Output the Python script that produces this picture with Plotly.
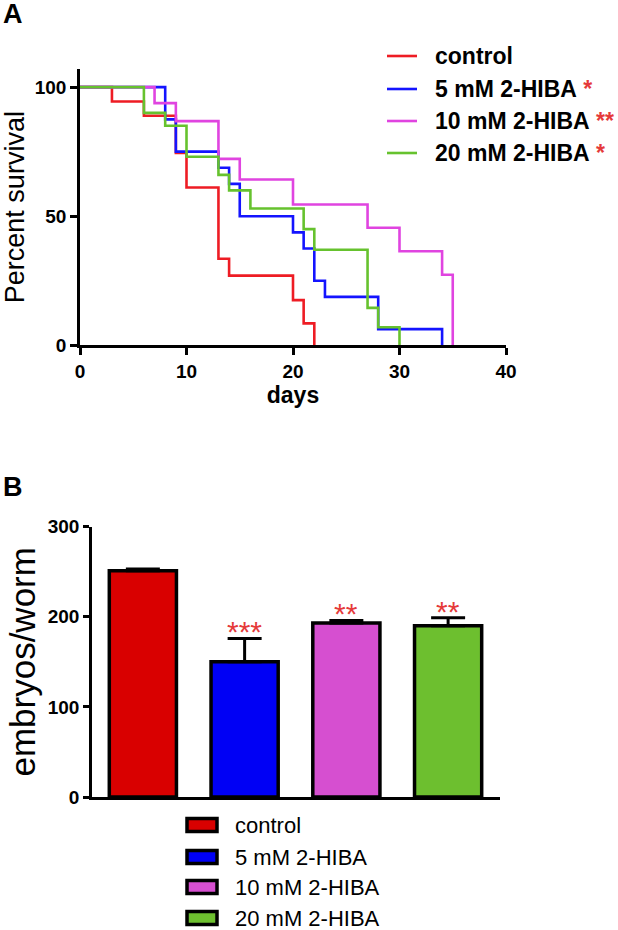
import plotly.graph_objects as go

# ---------------- data ----------------
groups = ["control", "5 mM 2-HIBA", "10 mM 2-HIBA", "20 mM 2-HIBA"]
survival_sig = ["", "*", "**", "*"]

control_days = [0, 3, 6, 9, 10, 13, 14, 20, 21, 22]
control_surv = [100, 94.4, 88.9, 74.5, 61.1, 33.5, 27.0, 17.5, 8.5, 0]
hiba5_days = [0, 8, 9, 13, 14, 15, 20, 21, 22, 23, 28, 34]
hiba5_surv = [100, 87.5, 75.0, 68.75, 62.5, 50.0, 43.75, 37.5, 25.0, 18.75, 6.25, 0]
hiba10_days = [0, 7, 9, 13, 15, 20, 27, 30, 34, 35]
hiba10_surv = [100, 93.8, 86.8, 72.2, 64.2, 54.5, 45.5, 36.4, 27.3, 0]
hiba20_days = [0, 6, 8, 10, 13, 14, 16, 21, 22, 27, 28, 30]
hiba20_surv = [100, 90.0, 85.0, 73.0, 66.0, 60.0, 53.0, 45.0, 37.0, 14.5, 7.0, 0]

embryos_mean = [251, 150, 193, 190]
embryos_sem = [2, 26, 3, 9]
embryos_sig = ["", "***", "**", "**"]

x_ticks_days = [0, 10, 20, 30, 40]
y_ticks_surv = [0, 50, 100]
y_ticks_emb = [0, 100, 200, 300]

# ---------------- style ----------------
line_colors = ["#ee1c24", "#1414ff", "#e044e0", "#66c22e"]
bar_colors = ["#d90000", "#0000f5", "#d64fd0", "#6dbf2f"]
sig_color = "#e53a3a"
FONT = "Arial, Liberation Sans, Helvetica, sans-serif"

W, H = 618, 930
ML, MR, MT, MB = 80, 112, 69, 133
PW = W - ML - MR
PH = H - MT - MB


def px(x):
    return (x - ML) / PW


def py(y):
    return (H - MB - y) / PH


fig = go.Figure()

series = [(control_days, control_surv), (hiba5_days, hiba5_surv),
          (hiba10_days, hiba10_surv), (hiba20_days, hiba20_surv)]
for (d, s), name, col in zip(series, groups, line_colors):
    fig.add_trace(go.Scatter(x=d, y=s, mode="lines", line_shape="hv", name=name,
                             line=dict(color=col, width=2.6), showlegend=False,
                             xaxis="x", yaxis="y", hoverinfo="x+y+name"))

fig.add_trace(go.Bar(
    x=list(range(len(groups))), y=embryos_mean, width=0.66,
    marker=dict(color=bar_colors, line=dict(color="black", width=3.5)),
    error_y=dict(type="data", array=embryos_sem, arrayminus=[0] * len(groups),
                 symmetric=False, color="black", thickness=3, width=17),
    showlegend=False, xaxis="x2", yaxis="y2", hovertext=groups))

axis_common = dict(showline=True, linecolor="black", linewidth=2.5, showgrid=False,
                   zeroline=False, ticks="outside", tickcolor="black", tickwidth=2.5,
                   tickfont=dict(family=FONT, size=19, color="black", weight="bold"))

fig.update_layout(
    width=W, height=H, margin=dict(l=ML, r=MR, t=MT, b=MB),
    plot_bgcolor="white", paper_bgcolor="white", showlegend=False,
    xaxis=dict(domain=[0, 1], anchor="y", range=[0, 40], tickvals=x_ticks_days,
               ticklen=7, automargin=True,
               title=dict(text="days", standoff=6,
                          font=dict(family=FONT, size=23, color="black", weight="bold")),
               **axis_common),
    yaxis=dict(domain=[py(345.3), 1], anchor="x", range=[0, 107], tickvals=y_ticks_surv,
               ticklen=7, automargin=True,
               title=dict(text="Percent survival", standoff=4,
                          font=dict(family=FONT, size=27, color="black")),
               **axis_common),
    xaxis2=dict(domain=[px(92), px(500)], anchor="y2", range=[-0.5, 3.51],
                showline=True, linecolor="black", linewidth=2.5, showgrid=False,
                zeroline=False, showticklabels=False, ticks=""),
    yaxis2=dict(domain=[0, py(526.7)], anchor="x2", range=[0, 300], tickvals=y_ticks_emb,
                ticklen=6, automargin=True,
                title=dict(text="embryos/worm", standoff=2,
                           font=dict(family=FONT, size=35, color="black")),
                **axis_common),
)

ann = []
shapes = []
# panel labels
ann.append(dict(text="<b>A</b>", x=px(1), y=py(14), xref="paper", yref="paper",
                xanchor="left", yanchor="middle", showarrow=False,
                font=dict(family=FONT, size=27, color="black")))
ann.append(dict(text="<b>B</b>", x=px(1), y=py(487), xref="paper", yref="paper",
                xanchor="left", yanchor="middle", showarrow=False,
                font=dict(family=FONT, size=27, color="black")))

# legend A (lines)
rowsA = [56, 89, 121, 153]
for name, sig, col, yy in zip(groups, survival_sig, line_colors, rowsA):
    shapes.append(dict(type="line", xref="paper", yref="paper", x0=px(387), x1=px(417),
                       y0=py(yy), y1=py(yy), line=dict(color=col, width=2.6)))
    label = "<b>" + name + "</b>"
    if sig:
        label += " <span style='color:%s'><b>%s</b></span>" % (sig_color, sig)
    ann.append(dict(text=label, x=px(433), y=py(yy), xref="paper", yref="paper",
                    xanchor="left", yanchor="middle", showarrow=False,
                    font=dict(family=FONT, size=23, color="black")))

# legend B (boxes)
rowsB = [825, 857, 887, 918]
for name, col, yy in zip(groups, bar_colors, rowsB):
    shapes.append(dict(type="rect", xref="paper", yref="paper", x0=px(187), x1=px(217),
                       y0=py(yy - 6.5), y1=py(yy + 6.5), fillcolor=col,
                       line=dict(color="black", width=3.5)))
    ann.append(dict(text=name, x=px(233), y=py(yy), xref="paper", yref="paper",
                    xanchor="left", yanchor="middle", showarrow=False,
                    font=dict(family=FONT, size=22, color="black")))

# significance stars on bars
for i, (m, s, sig) in enumerate(zip(embryos_mean, embryos_sem, embryos_sig)):
    if sig:
        ann.append(dict(text=sig, x=i, y=m + s, xref="x2", yref="y2",
                        xanchor="center", yanchor="bottom", yshift=-12, showarrow=False,
                        font=dict(family=FONT, size=30, color=sig_color)))

fig.update_layout(annotations=ann, shapes=shapes)
fig.write_html("out.html", config={"displayModeBar": False},
               post_script="document.body.style.margin='0';")
